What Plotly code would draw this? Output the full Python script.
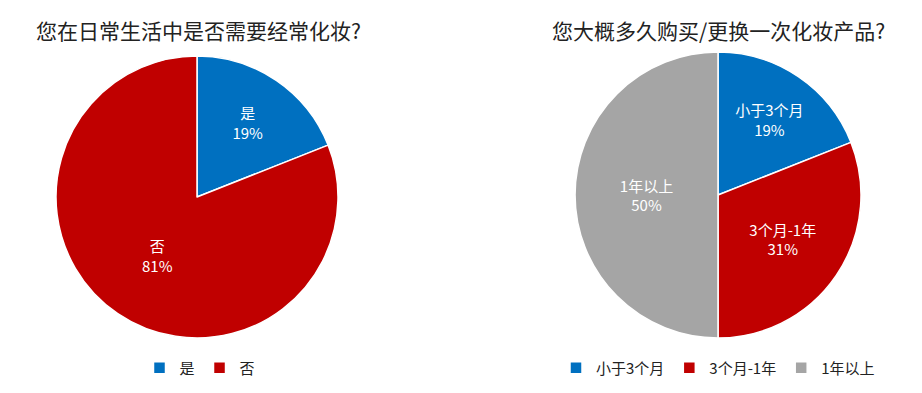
import plotly.graph_objects as go

# Data
q1_title = "您在日常生活中是否需要经常化妆?"
q1_labels = ["是", "否"]
q1_values = [19, 81]

q2_title = "您大概多久购买/更换一次化妆产品?"
q2_labels = ["小于3个月", "3个月-1年", "1年以上"]
q2_values = [19, 31, 50]

colors = ["#0070C0", "#C00000", "#A5A5A5"]
FONT = "Microsoft YaHei, Noto Sans CJK SC, sans-serif"

fig = go.Figure()
fig.add_trace(go.Pie(
    labels=q1_labels, values=q1_values, sort=False, direction="clockwise", rotation=0,
    marker=dict(colors=colors[:2], line=dict(color="white", width=1.5)),
    textinfo="label+percent", textposition="inside", insidetextorientation="horizontal",
    textfont=dict(color="white", size=15, family=FONT),
    domain=dict(x=[56/922, 338/922], y=[55/393, 337/393]),
    legend="legend", hoverinfo="skip",
))
fig.add_trace(go.Pie(
    labels=q2_labels, values=q2_values, sort=False, direction="clockwise", rotation=0,
    marker=dict(colors=colors, line=dict(color="white", width=1.5)),
    textinfo="label+percent", textposition="inside", insidetextorientation="horizontal",
    textfont=dict(color="white", size=15, family=FONT),
    domain=dict(x=[575/922, 861/922], y=[55/393, 341/393]),
    legend="legend2", hoverinfo="skip",
))

fig.update_layout(
    width=922, height=393,
    margin=dict(l=0, r=0, t=0, b=0),
    paper_bgcolor="white", plot_bgcolor="white",
    font=dict(family=FONT, color="#222222"),
    legend=dict(orientation="h", x=200/922, xanchor="center", y=1-368/393, yanchor="middle",
                font=dict(size=15, family=FONT, color="#222222"),
                itemwidth=30, tracegroupgap=0),
    legend2=dict(orientation="h", x=718/922, xanchor="center", y=1-368/393, yanchor="middle",
                 font=dict(size=15, family=FONT, color="#222222"), itemwidth=30),
    annotations=[
        dict(text=q1_title, x=198/922, y=1-30/393, xref="paper", yref="paper",
             xanchor="center", yanchor="middle", showarrow=False,
             font=dict(size=21, family=FONT, color="#222222")),
        dict(text=q2_title, x=718/922, y=1-30/393, xref="paper", yref="paper",
             xanchor="center", yanchor="middle", showarrow=False,
             font=dict(size=21, family=FONT, color="#222222")),
    ],
)
fig.write_html("out.html")
